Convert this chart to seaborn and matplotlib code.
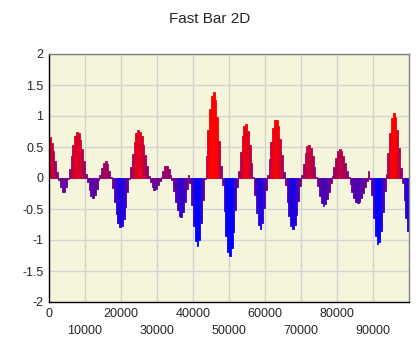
import numpy as np
import pandas as pd
import matplotlib
matplotlib.use('Agg')
import matplotlib.pyplot as plt
import seaborn as sns

# sample positions (every 500) and values
posisi = np.arange(250, 100000, 500)
nilai = [
    0.66, 0.57, 0.44, 0.27, 0.09,
    -0.03, -0.15, -0.23, -0.23, -0.14, -0.02,
    0.14, 0.35, 0.54, 0.68, 0.75, 0.72, 0.62, 0.46, 0.27, 0.07,
    -0.06, -0.20, -0.29, -0.32, -0.27, -0.17, -0.04,
    0.05, 0.16, 0.24, 0.27, 0.22, 0.12, 0.01,
    -0.16, -0.38, -0.58, -0.72, -0.79, -0.78, -0.66, -0.47, -0.23, -0.02,
    0.17, 0.39, 0.58, 0.72, 0.78, 0.75, 0.67, 0.54, 0.37, 0.19, 0.03,
    -0.06, -0.15, -0.19, -0.18, -0.12, -0.05,
    0.02, 0.12, 0.19, 0.19, 0.14, 0.05,
    -0.04, -0.21, -0.38, -0.52, -0.61, -0.63, -0.55, -0.39, -0.18,
    0.05,
    -0.08, -0.43, -0.77, -1.01, -1.10, -1.00, -0.73, -0.35, -0.02,
    0.36, 0.77, 1.11, 1.33, 1.39, 1.26, 0.98, 0.60, 0.20,
    -0.12, -0.54, -0.93, -1.19, -1.25, -1.13, -0.87, -0.52, -0.15,
    0.12, 0.42, 0.68, 0.84, 0.87, 0.76, 0.54, 0.25, 0.01,
    -0.27, -0.56, -0.76, -0.82, -0.72, -0.49, -0.20,
    0.05, 0.30, 0.58, 0.80, 0.93, 0.94, 0.84, 0.63, 0.37, 0.09,
    -0.12, -0.38, -0.61, -0.77, -0.82, -0.75, -0.60, -0.37, -0.13,
    0.05, 0.23, 0.40, 0.51, 0.54, 0.48, 0.35, 0.18, 0.02,
    -0.13, -0.29, -0.41, -0.45, -0.42, -0.34, -0.22, -0.08,
    0.03, 0.18, 0.33, 0.43, 0.47, 0.44, 0.36, 0.25, 0.12, 0.01,
    -0.10, -0.22, -0.32, -0.38, -0.40, -0.38, -0.32, -0.24, -0.15, -0.05,
    0.12,
    -0.02, -0.28, -0.64, -0.94, -1.07, -1.03, -0.85, -0.55, -0.21,
    0.07, 0.40, 0.72, 0.96, 1.05, 0.98, 0.78, 0.49, 0.16,
    -0.08, -0.36, -0.64, -0.86,
]
xticks = [0, 10000, 20000, 30000, 40000, 50000, 60000, 70000, 80000, 90000]
yticks = [-2, -1.5, -1, -0.5, 0, 0.5, 1, 1.5, 2]
ytick_labels = ['-2', '-1.5', '-1', '-0.5', '0', '0.5', '1', '1.5', '2']

data = pd.DataFrame({'x': posisi, 'y': nilai})

sns.set_style('white')
plt.rcParams['font.family'] = ['Liberation Sans', 'DejaVu Sans']
plt.rcParams['axes.unicode_minus'] = False

fig = plt.figure(figsize=(4.2, 3.6), dpi=100)
ax = fig.add_axes([49 / 420, 1 - 302 / 360, 360 / 420, 248 / 360])
ax.set_facecolor('#f5f5dc')

sns.barplot(data=data, x='x', y='y', native_scale=True, width=1,
            errorbar=None, saturation=1, color='purple', ax=ax)

# colour each bar from blue (low) to red (high); edge in same colour so no seams
t = np.clip((np.array(nilai) + 1) / 2, 0, 1)
for bar, tt in zip(ax.patches, t):
    warna = (tt, 0, 1 - tt)
    bar.set_facecolor(warna)
    bar.set_edgecolor(warna)
    bar.set_linewidth(0.6)

ax.set_xlim(0, 100000)
ax.set_ylim(-2, 2)
ax.set_xticks(xticks)
ax.set_xticklabels([str(v) if i % 2 == 0 else '\n' + str(v) for i, v in enumerate(xticks)],
                   fontsize=9, linespacing=1.6)
ax.set_yticks(yticks)
ax.set_yticklabels(ytick_labels, fontsize=9)
ax.set_xlabel('')
ax.set_ylabel('')

ax.grid(True, color='#d3d3d3', linewidth=1)
ax.set_axisbelow(True)
ax.tick_params(direction='inout', length=6, width=1, color='black', pad=1)

for s in ['left', 'bottom']:
    ax.spines[s].set_color('black')
    ax.spines[s].set_linewidth(1)
for s in ['top', 'right']:
    ax.spines[s].set_color('#808080')
    ax.spines[s].set_linewidth(1)

fig.text(0.5, 1 - 19 / 360, 'Fast Bar 2D', ha='center', va='center', fontsize=11)

plt.savefig('out.png', dpi=100)
